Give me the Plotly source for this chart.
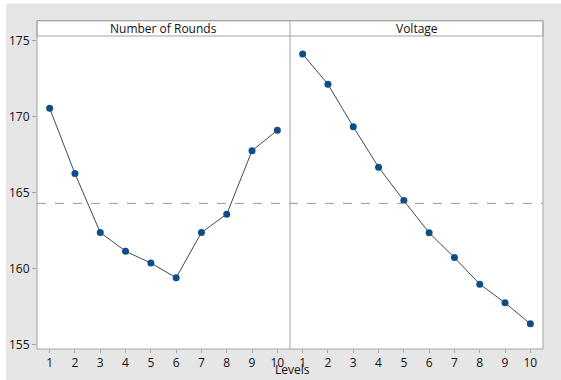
import plotly.graph_objects as go

levels = [1, 2, 3, 4, 5, 6, 7, 8, 9, 10]
rounds_means = [170.55, 166.25, 162.37, 161.14, 160.36, 159.39, 162.37, 163.58, 167.76, 169.10]
voltage_means = [174.12, 172.13, 169.34, 166.67, 164.47, 162.35, 160.72, 158.97, 157.74, 156.36]
panel_titles = ["Number of Rounds", "Voltage"]
y_ticks = [155, 160, 165, 170, 175]
grand_mean = sum(rounds_means) / len(rounds_means)

W, H = 561, 380
ML, MR, MT, MB = 37, 18, 36, 31
PW, PH = W - ML - MR, H - MT - MB

def px(x):
    return (x - ML) / PW

def py(y):
    return (H - MB - y) / PH

line_col = "#3c4b5a"
marker_col = "#0f4d86"
frame_col = "#a3a3a3"
font = dict(family="Open Sans, Noto Sans, sans-serif", size=12, color="#111111")

fig = go.Figure()
fig.add_trace(go.Scatter(x=levels, y=rounds_means, mode="lines+markers",
                         line=dict(color=line_col, width=1),
                         marker=dict(color=marker_col, size=7),
                         xaxis="x", yaxis="y", showlegend=False))
fig.add_trace(go.Scatter(x=levels, y=voltage_means, mode="lines+markers",
                         line=dict(color=line_col, width=1),
                         marker=dict(color=marker_col, size=7),
                         xaxis="x2", yaxis="y", showlegend=False))

strip_top = py(20.7)
shapes = [
    # white outer border strips
    dict(type="rect", xref="paper", yref="paper", x0=px(0), x1=px(W), y0=py(3.5), y1=py(0), fillcolor="white", line=dict(width=0), layer="below"),
    dict(type="rect", xref="paper", yref="paper", x0=px(0), x1=px(6), y0=py(H), y1=py(0), fillcolor="white", line=dict(width=0), layer="below"),
    # strip
    dict(type="rect", xref="paper", yref="paper", x0=0, x1=1, y0=1, y1=strip_top, fillcolor="white", line=dict(color=frame_col, width=1)),
    # frame
    dict(type="rect", xref="paper", yref="paper", x0=0, x1=1, y0=0, y1=strip_top, line=dict(color=frame_col, width=1)),
    dict(type="line", xref="paper", yref="paper", x0=0.5, x1=0.5, y0=0, y1=strip_top, line=dict(color=frame_col, width=1)),
    # grand mean reference line
    dict(type="line", xref="paper", yref="y", x0=0, x1=1, y0=grand_mean, y1=grand_mean, line=dict(color="#9a9a9a", width=1, dash="dash")),
]

annotations = [
    dict(text=panel_titles[0], x=0.25, y=(1 + strip_top) / 2, xref="paper", yref="paper", showarrow=False,
         xanchor="center", yanchor="middle", font=font),
    dict(text=panel_titles[1], x=0.75, y=(1 + strip_top) / 2, xref="paper", yref="paper", showarrow=False,
         xanchor="center", yanchor="middle", font=font),
    dict(text="Levels", x=px(292), y=py(380), xref="paper", yref="paper", showarrow=False,
         xanchor="center", yanchor="bottom", font=font),
]

xax = dict(range=[0.5, 10.5], tickvals=levels, showgrid=False, zeroline=False, showline=False,
           ticks="outside", ticklen=3, tickcolor=frame_col, tickfont=font, automargin=False)
fig.update_layout(
    width=W, height=H,
    margin=dict(l=ML, r=MR, t=MT, b=MB, pad=0),
    paper_bgcolor="#e6e6e6", plot_bgcolor="white",
    xaxis=dict(domain=[0, 0.5], **xax),
    xaxis2=dict(domain=[0.5, 1], anchor="y", **xax),
    yaxis=dict(range=[154.7, 175.31], tickvals=y_ticks, showgrid=False, zeroline=False, showline=False,
               ticks="outside", ticklen=4, tickcolor=frame_col, tickfont=font, automargin=False),
    shapes=shapes, annotations=annotations,
)
fig.write_html("out.html", config={"displayModeBar": False},
               post_script="document.body.style.margin='0';document.body.style.padding='0';")
